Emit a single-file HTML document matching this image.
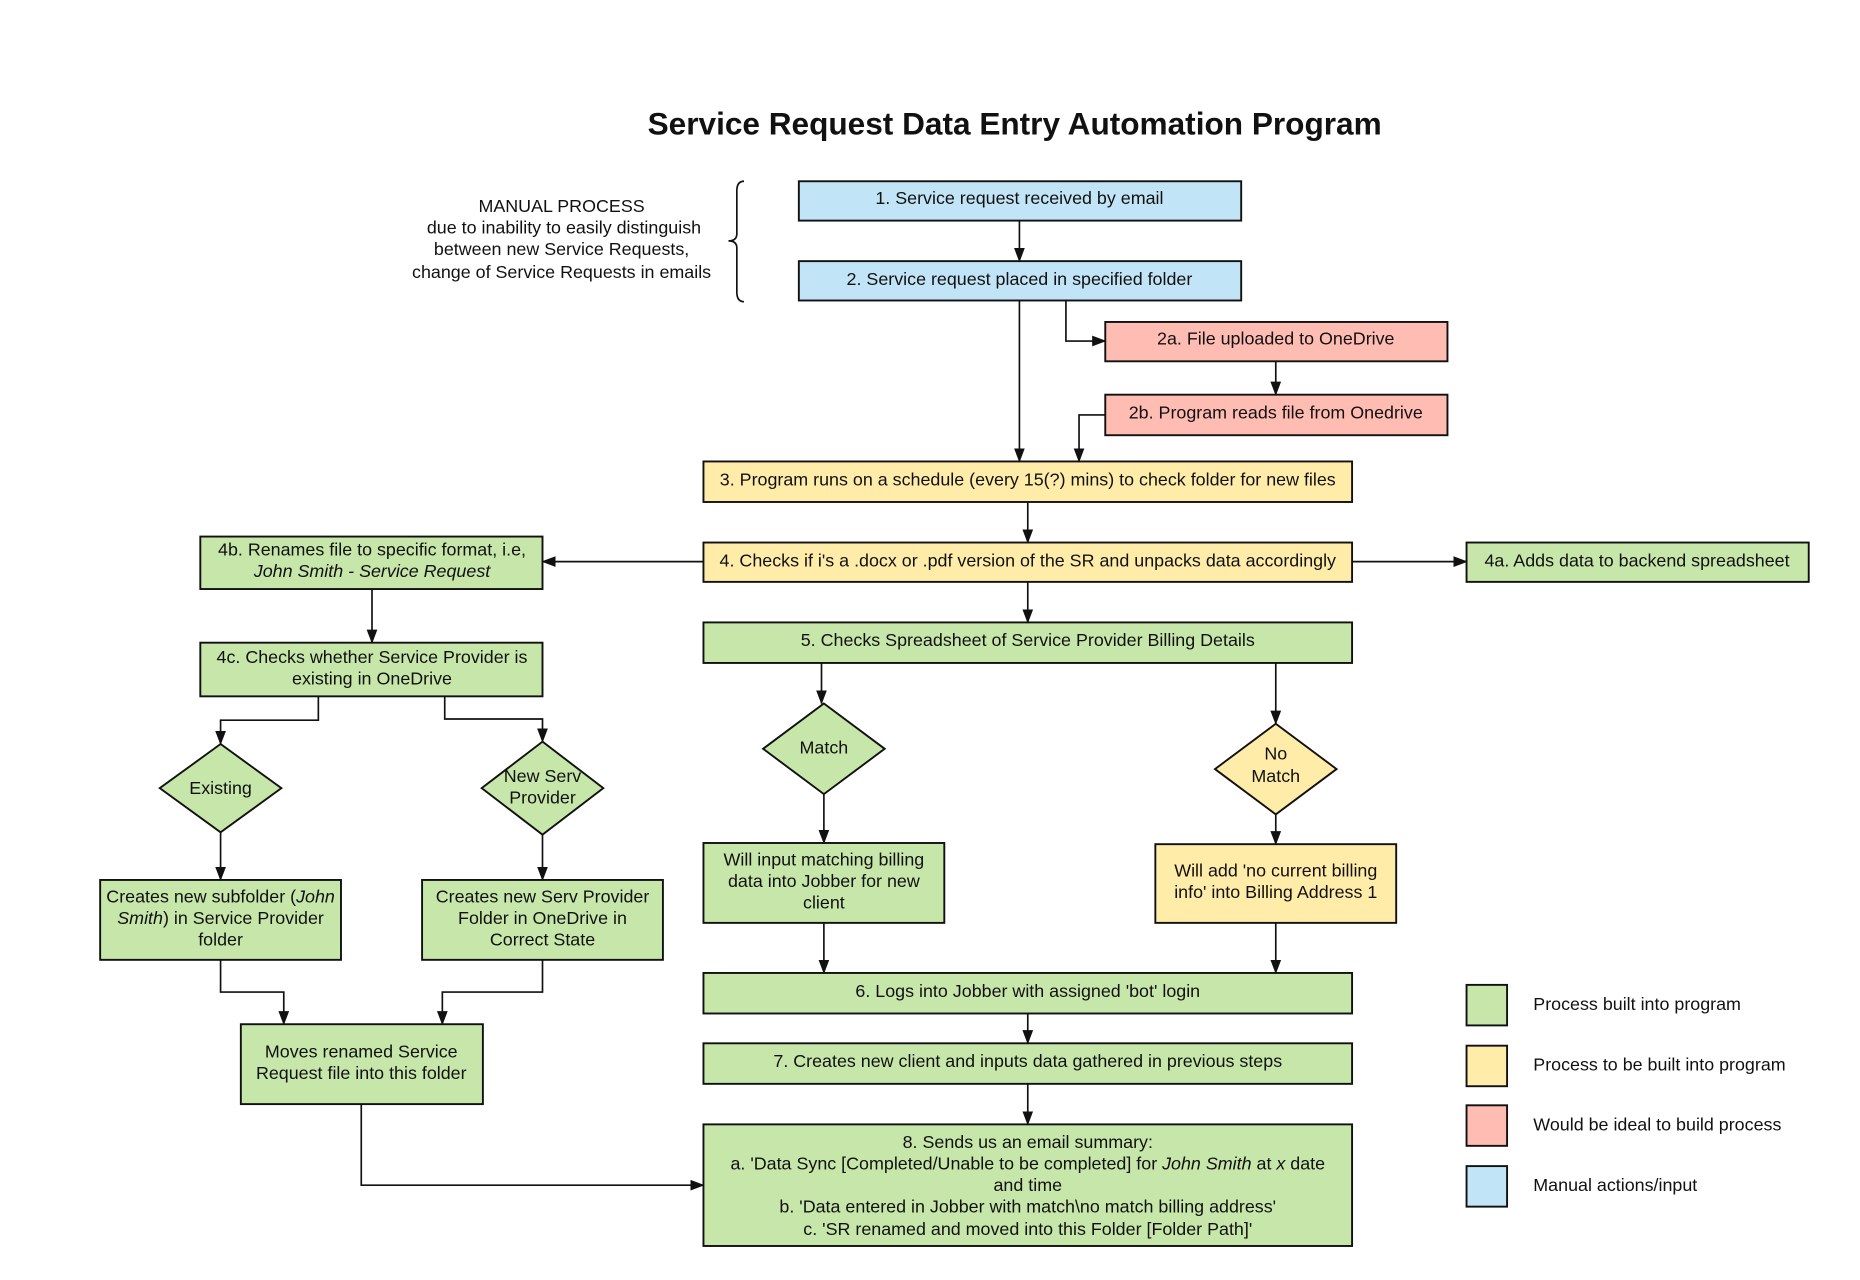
<!DOCTYPE html>
<html><head><meta charset="utf-8"><style>
html,body{margin:0;padding:0;background:#fff;}
svg{display:block;}
text{font-family:"Liberation Sans",Arial,sans-serif;font-size:15px;fill:#111;}
.b{stroke:#111;stroke-width:1.6;}
.g{fill:#c7e6aa;} .y{fill:#ffeca8;} .p{fill:#ffbcb3;} .bl{fill:#c1e4f6;}
.l{fill:none;stroke:#111;stroke-width:1.4;}
</style></head><body>
<svg width="1860" height="1280" viewBox="0 0 1560 1073.5" xmlns="http://www.w3.org/2000/svg">
<defs><marker id="a" markerWidth="12" markerHeight="10" refX="11" refY="4.5" orient="auto" markerUnits="userSpaceOnUse"><path d="M0,0 L12,4.5 L0,9 z" fill="#111"/></marker></defs>
<rect width="1560" height="1073.5" fill="#fff"/>
<text x="851" y="113" text-anchor="middle" style="font-size:26.5px;font-weight:bold">Service Request Data Entry Automation Program</text>
<g text-anchor="middle">
<text x="471" y="178">MANUAL PROCESS</text>
<text x="473" y="196">due to inability to easily distinguish</text>
<text x="471" y="214">between new Service Requests,</text>
<text x="471" y="233">change of Service Requests in emails</text>
</g>
<path class="l" d="M624,152 Q618,152 618,160 L618,196 Q618,202 611,202 Q618,202 618,208 L618,245 Q618,253 624,253"/>

<g class="b">
<rect class="bl" x="670" y="152" width="371" height="33"/>
<rect class="bl" x="670" y="219" width="371" height="33"/>
<rect class="p" x="927" y="270" width="287" height="33"/>
<rect class="p" x="927" y="331" width="287" height="34"/>
<rect class="y" x="590" y="387" width="544" height="34"/>
<rect class="y" x="590" y="455" width="544" height="33"/>
<rect class="g" x="1230" y="455" width="287" height="33"/>
<rect class="g" x="168" y="450" width="287" height="44"/>
<rect class="g" x="590" y="522" width="544" height="34"/>
<rect class="g" x="168" y="539" width="287" height="45"/>
<polygon class="g" points="691,590 742,628 691,666 640,628"/>
<polygon class="y" points="1070,607 1121,645 1070,683 1019,645"/>
<polygon class="g" points="185,624 236,661 185,698 134,661"/>
<polygon class="g" points="455,622 506,661 455,700 404,661"/>
<rect class="g" x="590" y="707" width="202" height="67"/>
<rect class="y" x="969" y="708" width="202" height="66"/>
<rect class="g" x="84" y="738" width="202" height="67"/>
<rect class="g" x="354" y="738" width="202" height="67"/>
<rect class="g" x="590" y="816" width="544" height="34"/>
<rect class="g" x="590" y="875" width="544" height="34"/>
<rect class="g" x="202" y="859" width="203" height="67"/>
<rect class="g" x="590" y="943" width="544" height="102"/>
<rect class="g" x="1230" y="826" width="34" height="34"/>
<rect class="y" x="1230" y="877" width="34" height="34"/>
<rect class="p" x="1230" y="927" width="34" height="34"/>
<rect class="bl" x="1230" y="978" width="34" height="34"/>
</g>

<g class="l" marker-end="url(#a)">
<path d="M855,185 V219"/>
<path d="M894,252 V286 H927"/>
<path d="M1070,303 V331"/>
<path d="M927,348 H905 V387"/>
<path d="M855,252 V387"/>
<path d="M862,421 V455"/>
<path d="M590,471 H455"/>
<path d="M1134,471 H1230"/>
<path d="M862,488 V522"/>
<path d="M312,494 V539"/>
<path d="M689,556 V590"/>
<path d="M1070,556 V607"/>
<path d="M691,666 V707"/>
<path d="M1070,683 V708"/>
<path d="M691,774 V816"/>
<path d="M1070,774 V816"/>
<path d="M862,850 V875"/>
<path d="M862,909 V943"/>
<path d="M267,584 V604 H185 V624"/>
<path d="M373,584 V603 H455 V622"/>
<path d="M185,698 V738"/>
<path d="M455,700 V738"/>
<path d="M185,805 V832 H238 V859"/>
<path d="M455,805 V832 H371 V859"/>
<path d="M303,926 V994 H590"/>
</g>

<g text-anchor="middle">
<text x="855" y="171">1.  Service request received by email</text>
<text x="855" y="239">2. Service request placed in specified folder</text>
<text x="1070" y="289">2a. File uploaded to OneDrive</text>
<text x="1070" y="351">2b. Program reads file from Onedrive</text>
<text x="862" y="407">3. Program runs on a schedule (every 15(?) mins) to check folder for new files</text>
<text x="862" y="475">4. Checks if i's a .docx or .pdf version of the SR and unpacks data accordingly</text>
<text x="1373" y="475">4a. Adds data to backend spreadsheet</text>
<text x="312" y="466">4b. Renames file to specific format, i.e,</text>
<text x="312" y="484" font-style="italic">John Smith - Service Request</text>
<text x="862" y="542">5. Checks Spreadsheet of Service Provider Billing Details</text>
<text x="312" y="556">4c. Checks whether Service Provider is</text>
<text x="312" y="574">existing in OneDrive</text>
<text x="691" y="632">Match</text>
<text x="1070" y="637">No</text>
<text x="1070" y="656">Match</text>
<text x="185" y="666">Existing</text>
<text x="455" y="656">New Serv</text>
<text x="455" y="674">Provider</text>
<text x="691" y="726">Will input matching billing</text>
<text x="691" y="744">data into Jobber for new</text>
<text x="691" y="762">client</text>
<text x="1070" y="735">Will add 'no current billing</text>
<text x="1070" y="753">info' into Billing Address 1</text>
<text x="185" y="757">Creates new subfolder (<tspan font-style="italic">John</tspan></text>
<text x="185" y="775"><tspan font-style="italic">Smith</tspan>) in Service Provider</text>
<text x="185" y="793">folder</text>
<text x="455" y="757">Creates new Serv Provider</text>
<text x="455" y="775">Folder in OneDrive in</text>
<text x="455" y="793">Correct State</text>
<text x="862" y="836">6. Logs into Jobber with assigned 'bot' login</text>
<text x="862" y="895">7. Creates new client and inputs data gathered in previous steps</text>
<text x="303" y="887">Moves renamed Service</text>
<text x="303" y="905">Request file into this folder</text>
<text x="862" y="963">8. Sends us an email summary:</text>
<text x="862" y="981">a. 'Data Sync [Completed/Unable to be completed] for <tspan font-style="italic">John Smith</tspan> at <tspan font-style="italic">x</tspan>  date</text>
<text x="862" y="999">and time</text>
<text x="862" y="1017">b. 'Data entered in Jobber with match\no match billing address'</text>
<text x="862" y="1036">c. 'SR renamed and moved into this Folder [Folder Path]'</text>
</g>
<text x="1286" y="847">Process built into program</text>
<text x="1286" y="898">Process to be built into program</text>
<text x="1286" y="948">Would be ideal to build process</text>
<text x="1286" y="999">Manual actions/input</text>
</svg>
</body></html>
